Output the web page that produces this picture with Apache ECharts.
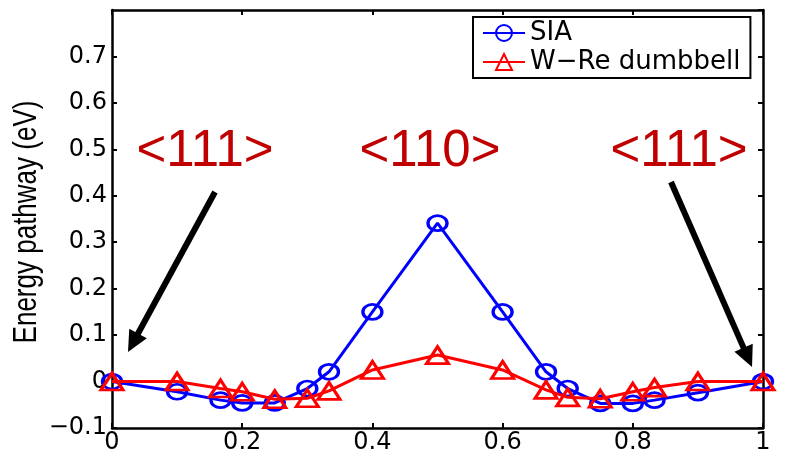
<!DOCTYPE html>
<html>
<head>
<meta charset="utf-8">
<script src="https://cdn.jsdelivr.net/npm/echarts@6/dist/echarts.min.js"></script>
<style>
    html, body { margin: 0; padding: 0; background: #fff; }
    #main { width: 789px; height: 461px; }
</style>
</head>
<body>
<div id="main"></div>
<script>
// 反应坐标
var xValues = [0, 0.1, 0.1667, 0.2, 0.25, 0.3, 0.3333, 0.4, 0.5, 0.6, 0.6667, 0.7, 0.75, 0.8, 0.8333, 0.9, 1];
// SIA 能量
var siaValues = [0, -0.022, -0.04, -0.046, -0.046, -0.015, 0.021, 0.15, 0.341, 0.15, 0.021, -0.015, -0.047, -0.047, -0.04, -0.024, 0];
// W-Re dumbbell 能量
var wreValues = [0, 0, -0.015, -0.022, -0.038, -0.036, -0.02, 0.025, 0.057, 0.025, -0.018, -0.034, -0.037, -0.022, -0.013, 0, 0];
var xTicks = [0, 0.2, 0.4, 0.6, 0.8, 1];
var yTicks = [-0.1, 0, 0.1, 0.2, 0.3, 0.4, 0.5, 0.6, 0.7];
var seriesNames = ['SIA', 'W\u2212Re dumbbell'];
var labelTexts = ['<111>', '<110>', '<111>'];
var yAxisTitle = 'Energy pathway (eV)';

var dom = document.getElementById("main");
var myChart = echarts.init(dom);

function pairs(xs, ys) {
    var out = [];
    xs.forEach(function (v, i) {
        out.push([v, ys[i]]);
    });
    return out;
}

function fmt(v) {
    var s = String(+v.toFixed(1));
    return s.replace('-', '\u2212');
}

/**
 * 箭头 (线 + 三角头)
 */
function arrow(x1, y1, x2, y2) {
    var dx = x2 - x1, dy = y2 - y1;
    var len = Math.sqrt(dx * dx + dy * dy);
    var ux = dx / len, uy = dy / len;
    var hl = 21, hw = 10;
    var bx = x2 - ux * hl, by = y2 - uy * hl;
    return [
        {
            type: 'line',
            shape: { x1: x1, y1: y1, x2: bx + ux * 2, y2: by + uy * 2 },
            style: { stroke: '#000', lineWidth: 6 }
        },
        {
            type: 'polygon',
            shape: { points: [[x2, y2], [bx - uy * hw, by + ux * hw], [bx + uy * hw, by - ux * hw]] },
            style: { fill: '#000' }
        }
    ];
}

function redLabel(text, x) {
    return {
        type: 'text',
        x: x,
        y: 152,
        style: { text: text, fill: '#c00000', font: '51px "Liberation Sans"', textAlign: 'center', textVerticalAlign: 'middle' }
    };
}

var fontFamily = 'DejaVu Sans';
var tickLabel = { fontFamily: fontFamily, fontSize: 24, color: '#000' };
var axisLineStyle = { color: '#000', width: 2.5 };
var tickStyle = { color: '#000', width: 2 };

var graphics = [].concat(
    arrow(215, 192, 128, 352),
    arrow(671, 182, 752, 367),
    [
        redLabel(labelTexts[0], 205),
        redLabel(labelTexts[1], 430),
        redLabel(labelTexts[2], 679),
        {
            // 纵轴标题 (原图横向拉伸)
            type: 'text',
            x: 27,
            y: 222,
            rotation: Math.PI / 2,
            scaleY: 1.25,
            style: { text: yAxisTitle, fill: '#000', font: '26px "Liberation Sans"', textAlign: 'center', textVerticalAlign: 'middle' }
        }
    ]
);

var option = {
    backgroundColor: '#fff',
    animation: false,
    grid: {
        left: 112,
        right: 26,
        top: 10,
        bottom: 33
    },
    legend: {
        orient: 'vertical',
        left: 473,
        top: 17,
        padding: [3, 10, 3, 9],
        itemWidth: 42,
        itemHeight: 20,
        itemGap: 3,
        backgroundColor: '#fff',
        borderColor: '#000',
        borderWidth: 2,
        textStyle: { fontFamily: fontFamily, fontSize: 26, color: '#000' },
        data: seriesNames
    },
    xAxis: [
        {
            type: 'value',
            min: 0,
            max: 1,
            interval: 0.2,
            axisLine: { onZero: false, lineStyle: axisLineStyle },
            axisTick: { inside: true, length: 5, lineStyle: tickStyle, customValues: xTicks },
            axisLabel: Object.assign({ margin: 3, formatter: fmt, customValues: xTicks }, tickLabel),
            splitLine: { show: false }
        },
        {
            type: 'value',
            position: 'top',
            min: 0,
            max: 1,
            interval: 0.2,
            axisLine: { onZero: false, lineStyle: axisLineStyle },
            axisTick: { inside: true, length: 5, lineStyle: tickStyle },
            axisLabel: { show: false },
            splitLine: { show: false }
        }
    ],
    yAxis: [
        {
            type: 'value',
            min: -0.1,
            max: 0.8,
            interval: 0.1,
            axisLine: { onZero: false, lineStyle: axisLineStyle },
            axisTick: { inside: true, length: 5, lineStyle: tickStyle, customValues: yTicks },
            axisLabel: Object.assign({ margin: 5, formatter: fmt, customValues: yTicks }, tickLabel),
            splitLine: { show: false }
        },
        {
            type: 'value',
            position: 'right',
            min: -0.1,
            max: 0.8,
            interval: 0.1,
            axisLine: { onZero: false, lineStyle: axisLineStyle },
            axisTick: { inside: true, length: 5, lineStyle: tickStyle },
            axisLabel: { show: false },
            splitLine: { show: false }
        }
    ],
    series: [
        {
            name: seriesNames[0],
            type: 'line',
            z: 3,
            symbol: 'circle',
            symbolSize: [19, 15],
            itemStyle: { color: 'rgba(0,0,0,0)', borderColor: '#0000ff', borderWidth: 3 },
            lineStyle: { color: '#0000ff', width: 3 },
            data: pairs(xValues, siaValues)
        },
        {
            name: seriesNames[1],
            type: 'line',
            z: 4,
            symbol: 'triangle',
            symbolSize: [22, 17],
            itemStyle: { color: 'rgba(0,0,0,0)', borderColor: '#ff0000', borderWidth: 3 },
            lineStyle: { color: '#ff0000', width: 3 },
            data: pairs(xValues, wreValues)
        }
    ],
    graphic: graphics
};

if (option && typeof option === "object") {
    myChart.setOption(option, true);
}
</script>
</body>
</html>
